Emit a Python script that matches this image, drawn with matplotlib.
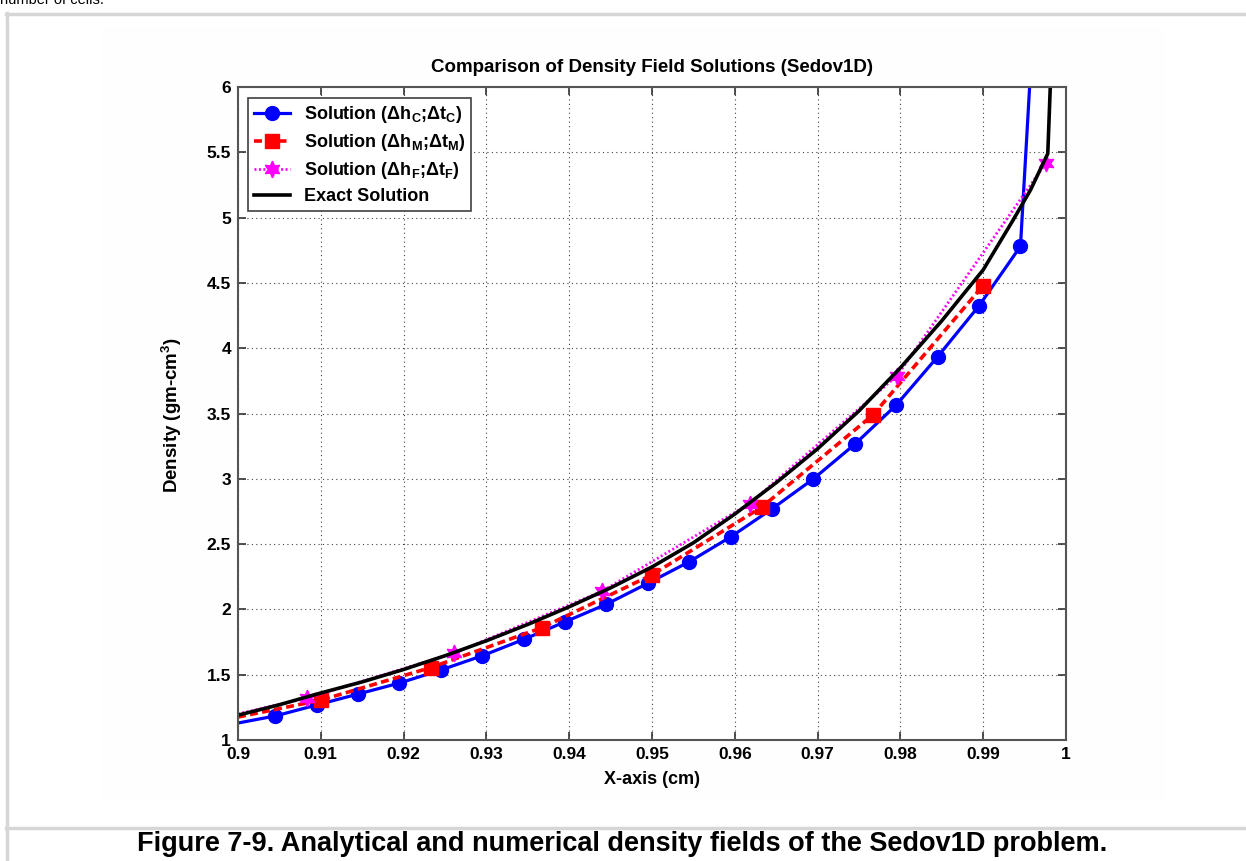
import matplotlib
matplotlib.use("Agg")
import matplotlib.pyplot as plt
from matplotlib.patches import Rectangle
from matplotlib.lines import Line2D

# ---------------- data ----------------
x_coarse = [0.9000, 0.9045, 0.9095, 0.9145, 0.9195, 0.9245, 0.9295, 0.9345, 0.9395, 0.9445,
            0.9495, 0.9545, 0.9595, 0.9645, 0.9695, 0.9745, 0.9795, 0.9845, 0.9895, 0.9945, 0.9995]
rho_coarse = [1.13, 1.184, 1.268, 1.352, 1.436, 1.536, 1.645, 1.770, 1.905, 2.040,
              2.200, 2.365, 2.555, 2.770, 3.000, 3.265, 3.565, 3.935, 4.325, 4.780, 10.3]

x_medium = [0.9000, 0.9100, 0.9233, 0.9367, 0.9500, 0.9633, 0.9767, 0.9900]
rho_medium = [1.176, 1.305, 1.555, 1.860, 2.265, 2.785, 3.490, 4.480]

x_fine = [0.9000, 0.9083, 0.9261, 0.9440, 0.9618, 0.9796, 0.9976]
rho_fine = [1.20, 1.32, 1.665, 2.14, 2.81, 3.79, 5.42]

x_exact = [0.900, 0.905, 0.910, 0.915, 0.920, 0.925, 0.930, 0.935, 0.940, 0.945, 0.950,
           0.955, 0.960, 0.965, 0.970, 0.975, 0.980, 0.985, 0.990, 0.9936, 0.9957, 0.9978, 0.9981]
rho_exact = [1.19, 1.27, 1.36, 1.445, 1.54, 1.645, 1.76, 1.885, 2.02, 2.165, 2.325,
             2.51, 2.73, 2.97, 3.23, 3.52, 3.85, 4.21, 4.60, 4.98, 5.21, 5.49, 6.0]

labels = ["Solution (\u0394h$_\\mathregular{C}$;\u0394t$_\\mathregular{C}$)",
          "Solution (\u0394h$_\\mathregular{M}$;\u0394t$_\\mathregular{M}$)",
          "Solution (\u0394h$_\\mathregular{F}$;\u0394t$_\\mathregular{F}$)",
          "Exact Solution"]
x_ticks = [0.9, 0.91, 0.92, 0.93, 0.94, 0.95, 0.96, 0.97, 0.98, 0.99, 1.0]
x_ticklabels = ["0.9", "0.91", "0.92", "0.93", "0.94", "0.95", "0.96", "0.97", "0.98", "0.99", "1"]
y_ticks = [1, 1.5, 2, 2.5, 3, 3.5, 4, 4.5, 5, 5.5, 6]
y_ticklabels = ["1", "1.5", "2", "2.5", "3", "3.5", "4", "4.5", "5", "5.5", "6"]

title = "Comparison of Density Field Solutions (Sedov1D)"
xlabel = "X-axis (cm)"
ylabel = "Density (gm-cm$^\\mathregular{3}$)"
caption = "Figure 7-9. Analytical and numerical density fields of the Sedov1D problem."
top_text = "number of cells."

# ---------------- style ----------------
plt.rcParams['font.family'] = ['Liberation Sans', 'DejaVu Sans']
plt.rcParams['font.weight'] = 'bold'
plt.rcParams['mathtext.fontset'] = 'custom'
plt.rcParams['mathtext.rm'] = 'Liberation Sans:bold'
plt.rcParams['mathtext.it'] = 'Liberation Sans:bold'
plt.rcParams['mathtext.bf'] = 'Liberation Sans:bold'

W, H = 1246, 861
fig = plt.figure(figsize=(W / 100, H / 100), dpi=100)
fig.patch.set_facecolor('white')

def fx(px):
    return px / W

def fy(py):
    return 1 - py / H

# page decorations
bg = Rectangle((fx(102), fy(800)), fx(1166) - fx(102), fy(27) - fy(800),
               transform=fig.transFigure, facecolor='#fefefe', edgecolor='none', zorder=-5)
fig.add_artist(bg)
fig.add_artist(Line2D([fx(6), 1.0], [fy(13.5), fy(13.5)], transform=fig.transFigure,
                      color='#d6d6d6', lw=2.5, zorder=-4))
fig.add_artist(Line2D([fx(7), fx(7)], [fy(13), 0.0], transform=fig.transFigure,
                      color='#d6d6d6', lw=2.5, zorder=-4))
fig.add_artist(Line2D([fx(6), 1.0], [fy(828), fy(828)], transform=fig.transFigure,
                      color='#d6d6d6', lw=2.5, zorder=-4))
fig.text(fx(0), fy(4), top_text, fontsize=10.5, fontweight='normal', ha='left', va='baseline')
fig.text(fx(622), fy(844), caption, fontsize=19.5, fontweight='bold', ha='center', va='center')

# axes
left, right, top, bottom = 238, 1066, 87, 740
ax = fig.add_axes([fx(left), fy(bottom), fx(right) - fx(left), fy(top) - fy(bottom)])
ax.set_facecolor('white')

hexagram = (6, 1, 0)
ax.plot(x_coarse, rho_coarse, color='#0000ff', lw=2.3, marker='o', ms=10,
        markevery=slice(1, None), label=labels[0])
ax.plot(x_medium, rho_medium, color='#ff0000', lw=2.6, ls=(0, (2.2, 1.2)), marker='s', ms=10,
        markevery=slice(1, None), label=labels[1])
ax.plot(x_fine, rho_fine, color='#ff00ff', lw=2.0, ls=(0, (0.7, 0.9)), marker=hexagram, ms=12,
        markevery=slice(1, None), label=labels[2])
ax.plot(x_exact, rho_exact, color='black', lw=2.6, label=labels[3])

ax.set_xlim(0.9, 1.0)
ax.set_ylim(1, 6)
ax.set_xticks(x_ticks)
ax.set_xticklabels(x_ticklabels)
ax.set_yticks(y_ticks)
ax.set_yticklabels(y_ticklabels)
ax.tick_params(direction='in', length=6, width=1.2, colors='#333333', labelcolor='black',
               labelsize=12.5, top=True, right=True, pad=5)
for lab in ax.get_xticklabels() + ax.get_yticklabels():
    lab.set_fontweight('bold')
for sp in ax.spines.values():
    sp.set_color('#555555')
    sp.set_linewidth(1.5)
ax.grid(True, color='#444444', lw=0.8, ls=(0, (1, 3)))

fig.text(fx(652), fy(67), title, fontsize=13.5, fontweight='bold', ha='center', va='center')
fig.text(fx(652), fy(779), xlabel, fontsize=13, fontweight='bold', ha='center', va='center')
fig.text(fx(172), fy(415), ylabel, fontsize=13.5, fontweight='bold', ha='center', va='center',
         rotation=90)

leg = ax.legend(loc='upper left', bbox_to_anchor=(fx(248), fy(98)), bbox_transform=fig.transFigure,
                borderaxespad=0, frameon=True, fancybox=False, numpoints=1, fontsize=13,
                handlelength=2.0, handletextpad=0.75, labelspacing=0.38, borderpad=0.35)
leg.get_frame().set_edgecolor('#404040')
leg.get_frame().set_linewidth(1.2)
leg.get_frame().set_alpha(1)
for t in leg.get_texts():
    t.set_fontweight('bold')

fig.savefig('out.png', dpi=100, facecolor='white')
